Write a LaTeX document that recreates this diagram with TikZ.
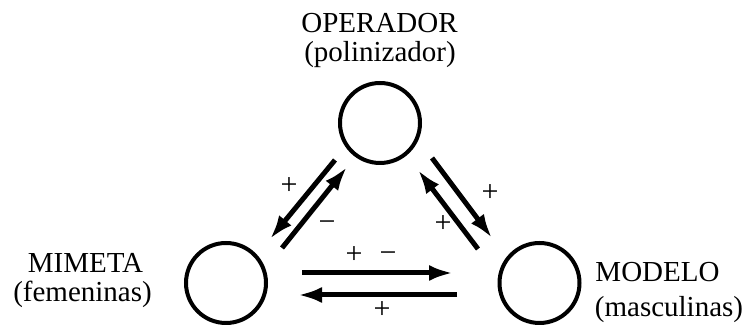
\documentclass[tikz,border=0pt]{standalone}
\usepackage{fontspec}
\setmainfont{Liberation Serif}
\usetikzlibrary{arrows.meta}
\begin{document}
\begin{tikzpicture}[x=1pt,y=1pt,
  state/.style={circle,draw,line width=4pt,minimum size=80pt,inner sep=0pt},
  arr/.style={line width=5pt,-{Latex[length=24pt,width=16pt]}},
  lbl/.style={font=\fontsize{29}{34}\selectfont,inner sep=0pt,anchor=base},
  sgn/.style={font=\fontsize{30}{34}\selectfont,inner sep=0pt}]
\useasboundingbox (0,0) rectangle (748,326);
% circles
\node[state] (top) at (380,203) {};
\node[state] (left) at (226,43) {};
\node[state] (right) at (539.5,43) {};
% labels
\node[lbl] (op) at (379.5,293) {OPERADOR};
\node[lbl] (pol) at (380,264) {(polinizador)};
\node[lbl] (mim) at (85.5,53) {MIMETA};
\node[lbl] (fem) at (82.5,24) {(femeninas)};
\node[lbl] (mod) at (657.5,44) {MODELO};
\node[lbl] (mas) at (669,9) {(masculinas)};
% left pair
\draw[arr] ([shift={(-45,-37)}]top.center) -- ([shift={(44,44)}]left.center);
\draw[arr] ([shift={(56,35)}]left.center) -- ([shift={(-33,-44)}]top.center);
% right pair
\draw[arr] ([shift={(52,-35)}]top.center) -- ([shift={(-47.5,45)}]right.center);
\draw[arr] ([shift={(-61.5,34)}]right.center) -- ([shift={(38,-47)}]top.center);
% horizontal pair
\draw[arr] ([shift={(76,10)}]left.center) -- ([shift={(-86.5,10)}]right.center);
\draw[arr] ([shift={(-82.5,-12)}]right.center) -- ([shift={(72,-12)}]left.center);
% signs
\node[sgn] (s1) at (289,140) {+};
\node[sgn] (s2) at (327,100) {−};
\node[sgn] (s3) at (490,133) {+};
\node[sgn] (s4) at (443,102) {+};
\node[sgn] (s5) at (354,71) {+};
\node[sgn] (s6) at (388,69) {−};
\node[sgn] (s7) at (382,16) {+};
\end{tikzpicture}
\end{document}
